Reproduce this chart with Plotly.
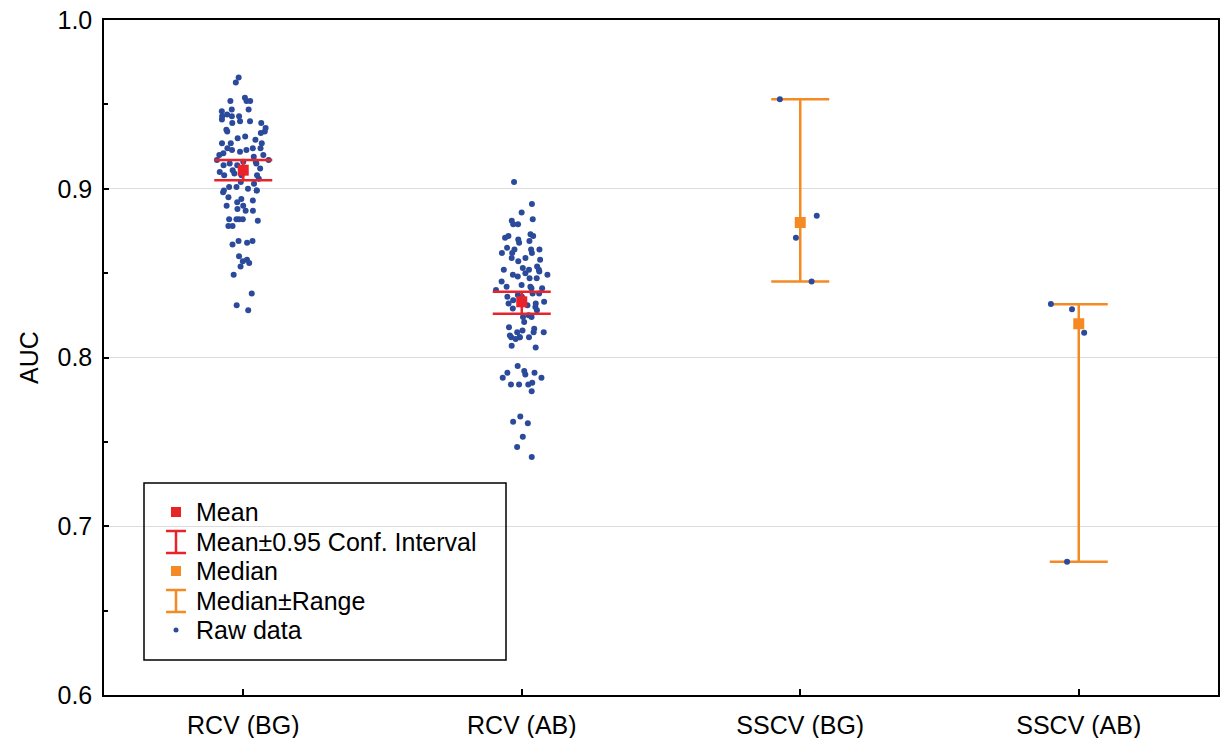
import plotly.graph_objects as go

# ---------------- data ----------------
categories = ["RCV (BG)", "RCV (AB)", "SSCV (BG)", "SSCV (AB)"]

raw_rcv_bg = [0.966, 0.963, 0.952, 0.952, 0.952, 0.954, 0.947, 0.946, 0.947, 0.940,
              0.940, 0.943, 0.941, 0.943, 0.944, 0.943, 0.939, 0.939, 0.934, 0.936,
              0.935, 0.934, 0.933, 0.930, 0.931, 0.927, 0.927, 0.927, 0.929, 0.924,
              0.924, 0.924, 0.923, 0.922, 0.923, 0.921, 0.920, 0.919, 0.920, 0.916,
              0.917, 0.917, 0.916, 0.914, 0.915, 0.915, 0.914, 0.909, 0.908, 0.908,
              0.908, 0.911, 0.906, 0.904, 0.912, 0.903, 0.910,
              0.901, 0.900, 0.899, 0.899, 0.898, 0.899, 0.901, 0.893, 0.894, 0.892,
              0.890, 0.890, 0.887, 0.895, 0.888, 0.887, 0.882, 0.881, 0.882, 0.882,
              0.882, 0.878, 0.878, 0.869, 0.868, 0.869, 0.867, 0.860, 0.857, 0.858,
              0.856, 0.854, 0.849, 0.838, 0.831, 0.828]

raw_rcv_ab = [0.904, 0.891, 0.886, 0.879, 0.881, 0.879, 0.882, 0.873, 0.872, 0.871,
              0.870, 0.872, 0.869, 0.868, 0.864, 0.862, 0.862, 0.859, 0.857, 0.859,
              0.858, 0.862, 0.864, 0.865, 0.864, 0.854, 0.853, 0.852, 0.852, 0.850,
              0.852, 0.851, 0.849, 0.847, 0.848, 0.845, 0.847, 0.849, 0.842, 0.843,
              0.841, 0.840, 0.842, 0.841, 0.838, 0.838, 0.836, 0.836, 0.837, 0.832,
              0.830, 0.829, 0.832, 0.831, 0.825, 0.824, 0.824, 0.834, 0.828, 0.833,
              0.821, 0.813, 0.811, 0.815, 0.807, 0.816, 0.815, 0.812, 0.812, 0.815,
              0.818, 0.817, 0.812, 0.812, 0.806, 0.791, 0.790, 0.785, 0.784, 0.784,
              0.791, 0.788, 0.780, 0.795, 0.792, 0.788, 0.784, 0.765, 0.762, 0.761,
              0.753, 0.747, 0.741]

raw_sscv_bg = [0.953, 0.884, 0.871, 0.845]
raw_sscv_ab = [0.8317, 0.8286, 0.8147, 0.679]

mean_cats = ["RCV (BG)", "RCV (AB)"]
mean_values = [0.911, 0.833]
ci_upper = [0.917, 0.839]
ci_lower = [0.905, 0.826]

median_cats = ["SSCV (BG)", "SSCV (AB)"]
median_values = [0.880, 0.820]
range_max = [0.953, 0.8315]
range_min = [0.845, 0.679]

y_tick_vals = [0.6, 0.7, 0.8, 0.9, 1.0]
y_tick_text = ["0.6", "0.7", "0.8", "0.9", "1.0"]
y_minor_vals = [0.65, 0.75, 0.85, 0.95]

legend_labels = ["Mean", "Mean±0.95 Conf. Interval", "Median", "Median±Range", "Raw data"]

# ---------------- styles ----------------
BLUE = "#2b4a9b"
RED = "#e8232a"
ORANGE = "#f58a25"
FONT = "Liberation Sans, Arial, sans-serif"
FS = 25

W, H = 1223, 738
PL, PR, PT, PB = 104, 1218, 20, 695


def fx(px):
    return (px - PL) / (PR - PL)


def fy(py):
    return (PB - py) / (PB - PT)


raw_x = ([categories[0]] * len(raw_rcv_bg) + [categories[1]] * len(raw_rcv_ab)
         + [categories[2]] * len(raw_sscv_bg) + [categories[3]] * len(raw_sscv_ab))
raw_y = raw_rcv_bg + raw_rcv_ab + raw_sscv_bg + raw_sscv_ab

fig = go.Figure()

# median +/- range whiskers (bar layer sits below the raw-data layer)
fig.add_trace(go.Bar(
    x=median_cats, y=median_values,
    marker=dict(color="rgba(0,0,0,0)", line=dict(width=0)),
    error_y=dict(type="data", symmetric=False,
                 array=[a - m for a, m in zip(range_max, median_values)],
                 arrayminus=[m - b for m, b in zip(median_values, range_min)],
                 color=ORANGE, thickness=2.5, width=29),
    showlegend=False, name="Median±Range", hoverinfo="skip",
))

fig.add_trace(go.Box(
    x=raw_x, y=raw_y, boxpoints="all", jitter=1, pointpos=0, width=0.21,
    line=dict(width=0, color="rgba(0,0,0,0)"), fillcolor="rgba(0,0,0,0)",
    marker=dict(color=BLUE, size=6, line=dict(width=0)),
    showlegend=False, name="Raw data", hoveron="points",
))

fig.add_trace(go.Scatter(
    x=median_cats, y=median_values, mode="markers",
    marker=dict(symbol="square", size=11, color=ORANGE),
    showlegend=False, name="Median",
))

fig.add_trace(go.Scatter(
    x=mean_cats, y=mean_values, mode="markers",
    marker=dict(symbol="square", size=11, color=RED),
    error_y=dict(type="data", symmetric=False,
                 array=[u - m for u, m in zip(ci_upper, mean_values)],
                 arrayminus=[m - l for m, l in zip(mean_values, ci_lower)],
                 color=RED, thickness=2.5, width=29),
    showlegend=False, name="Mean",
))

# ---------------- manual legend ----------------
shapes = []
annotations = []
shapes.append(dict(type="rect", xref="paper", yref="paper",
                   x0=fx(144), x1=fx(506), y0=fy(660), y1=fy(483),
                   line=dict(color="black", width=1.5), fillcolor="rgba(0,0,0,0)"))
rows = [512, 542, 571, 601, 630]
sx = 176
shapes.append(dict(type="rect", xref="paper", yref="paper", x0=fx(sx - 5), x1=fx(sx + 5),
                   y0=fy(rows[0] + 5), y1=fy(rows[0] - 5), line=dict(width=0), fillcolor=RED))
for r, c in [(rows[1], RED), (rows[3], ORANGE)]:
    for (a, b, cc, d) in [(sx, r - 11, sx, r + 11), (sx - 10, r - 11, sx + 10, r - 11),
                          (sx - 10, r + 11, sx + 10, r + 11)]:
        shapes.append(dict(type="line", xref="paper", yref="paper",
                           x0=fx(a), y0=fy(b), x1=fx(cc), y1=fy(d),
                           line=dict(color=c, width=2.5)))
shapes.append(dict(type="rect", xref="paper", yref="paper", x0=fx(sx - 5), x1=fx(sx + 5),
                   y0=fy(rows[2] + 5), y1=fy(rows[2] - 5), line=dict(width=0), fillcolor=ORANGE))
shapes.append(dict(type="circle", xref="paper", yref="paper", x0=fx(sx - 2.5), x1=fx(sx + 2.5),
                   y0=fy(rows[4] + 2.5), y1=fy(rows[4] - 2.5), line=dict(width=0), fillcolor=BLUE))
for r, t in zip(rows, legend_labels):
    annotations.append(dict(xref="paper", yref="paper", x=fx(194), y=fy(r), text=t,
                            showarrow=False, xanchor="left", yanchor="middle",
                            font=dict(size=FS, color="black", family=FONT)))

fig.update_layout(
    width=W, height=H,
    margin=dict(l=PL, r=W - PR, t=PT, b=H - PB, pad=0),
    paper_bgcolor="white", plot_bgcolor="white",
    font=dict(family=FONT, size=FS, color="black"),
    shapes=shapes, annotations=annotations,
    showlegend=False,
)
fig.update_xaxes(
    type="category", categoryorder="array", categoryarray=categories,
    range=[-0.5, 3.5], showgrid=False, zeroline=False, automargin=False,
    showline=True, linecolor="black", linewidth=1.5, mirror=True,
    ticks="inside", ticklen=6, tickwidth=1.5, tickcolor="black",
    ticklabelstandoff=7,
    tickfont=dict(size=FS, family=FONT, color="black"),
)
fig.update_yaxes(
    range=[0.6, 1.0], tickvals=y_tick_vals, ticktext=y_tick_text,
    showgrid=True, gridcolor="#dcdcdc", gridwidth=1, zeroline=False, automargin=False,
    showline=True, linecolor="black", linewidth=1.5, mirror=True,
    ticks="inside", ticklen=5, tickwidth=1.5, tickcolor="black",
    ticklabelstandoff=5,
    minor=dict(tickvals=y_minor_vals, ticks="inside", ticklen=4, tickwidth=1.5,
               tickcolor="black", showgrid=False),
    tickfont=dict(size=FS, family=FONT, color="black"),
    title=dict(text="AUC", font=dict(size=FS, family=FONT, color="black"), standoff=12),
)

fig.write_html("out.html", config={"displayModeBar": False},
               post_script="document.body.style.margin='0';")
